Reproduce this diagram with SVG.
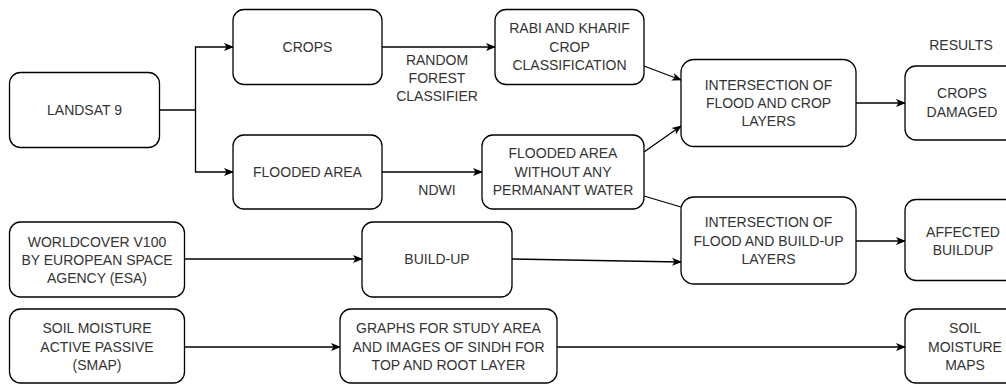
<svg xmlns="http://www.w3.org/2000/svg" width="1006" height="387" viewBox="0 0 1006 387">
<style>
.n rect{fill:#fff;stroke:#000;stroke-width:1.3}
text{font-family:"Liberation Sans",Arial,sans-serif;font-size:14px;fill:#333;text-anchor:middle}
.c path{fill:none;stroke:#000;stroke-width:1.3}
</style>
<defs>
<marker id="ah" viewBox="0 0 10 10" refX="9" refY="5" markerWidth="10" markerHeight="10" markerUnits="userSpaceOnUse" orient="auto">
<path d="M0,1 L10,5 L0,9 L2.5,5 Z" fill="#000"/>
</marker>
</defs>
<rect width="1006" height="387" fill="#fff"/>
<g class="c">
<path d="M159.5,110 H195.5 V47 H233" marker-end="url(#ah)"/>
<path d="M195.5,110 V172 H233" marker-end="url(#ah)"/>
<path d="M382,47 H495" marker-end="url(#ah)"/>
<path d="M382,172 H482" marker-end="url(#ah)"/>
<path d="M644,66 L681,80" marker-end="url(#ah)"/>
<path d="M644,152 L681,126" marker-end="url(#ah)"/>
<path d="M644,196 L681,207"/>
<path d="M856,103 H905" marker-end="url(#ah)"/>
<path d="M184,259 H362" marker-end="url(#ah)"/>
<path d="M512,259 L681,262" marker-end="url(#ah)"/>
<path d="M856,241 H905" marker-end="url(#ah)"/>
<path d="M184,347 H340" marker-end="url(#ah)"/>
<path d="M557,347 H905" marker-end="url(#ah)"/>
</g>
<g id="lbl-rf"><text x="437" y="65">RANDOM</text><text x="437" y="82.5">FOREST</text><text x="437" y="101">CLASSIFIER</text></g>
<g id="lbl-ndwi"><text x="437" y="195">NDWI</text></g>
<g id="lbl-results"><text x="961" y="50">RESULTS</text></g>
<g id="landsat" class="n"><rect x="9.5" y="72.5" width="150" height="75" rx="11"/><text x="84.5" y="115">LANDSAT 9</text></g>
<g id="crops" class="n"><rect x="233" y="9.5" width="149" height="75" rx="11"/><text x="307.5" y="52">CROPS</text></g>
<g id="flooded" class="n"><rect x="233" y="135" width="149" height="74" rx="11"/><text x="307.5" y="177">FLOODED AREA</text></g>
<g id="rabi" class="n"><rect x="495" y="9.5" width="149" height="75" rx="11"/><text x="569.5" y="33">RABI AND KHARIF</text><text x="569.5" y="51.5">CROP</text><text x="569.5" y="70">CLASSIFICATION</text></g>
<g id="flooded-perm" class="n"><rect x="482" y="135" width="162" height="74" rx="11"/><text x="563" y="158">FLOODED AREA</text><text x="563" y="176.5">WITHOUT ANY</text><text x="563" y="195">PERMANANT WATER</text></g>
<g id="int-crop" class="n"><rect x="681" y="59.5" width="175" height="87" rx="13"/><text x="768.5" y="90">INTERSECTION OF</text><text x="768.5" y="108">FLOOD AND CROP</text><text x="768.5" y="126">LAYERS</text></g>
<g id="crops-damaged" class="n"><rect x="905" y="66" width="120" height="74" rx="11"/><text x="962" y="98">CROPS</text><text x="962" y="117">DAMAGED</text></g>
<g id="worldcover" class="n"><rect x="9.5" y="222" width="175" height="75" rx="11"/><text x="97" y="247">WORLDCOVER V100</text><text x="97" y="264.5">BY EUROPEAN SPACE</text><text x="97" y="283">AGENCY (ESA)</text></g>
<g id="buildup" class="n"><rect x="362" y="222" width="150" height="75" rx="11"/><text x="437" y="264">BUILD-UP</text></g>
<g id="int-build" class="n"><rect x="681" y="197" width="175" height="87" rx="13"/><text x="768.5" y="227">INTERSECTION OF</text><text x="768.5" y="245.5">FLOOD AND BUILD-UP</text><text x="768.5" y="264">LAYERS</text></g>
<g id="affected" class="n"><rect x="905" y="199.5" width="120" height="81" rx="11"/><text x="963" y="237">AFFECTED</text><text x="963" y="255">BUILDUP</text></g>
<g id="smap" class="n"><rect x="9.5" y="309" width="175" height="74" rx="11"/><text x="97" y="333">SOIL MOISTURE</text><text x="97" y="351.5">ACTIVE PASSIVE</text><text x="97" y="370">(SMAP)</text></g>
<g id="graphs" class="n"><rect x="340" y="309" width="217" height="74" rx="11"/><text x="448.5" y="333">GRAPHS FOR STUDY AREA</text><text x="448.5" y="351.5">AND IMAGES OF SINDH FOR</text><text x="448.5" y="370">TOP AND ROOT LAYER</text></g>
<g id="smmaps" class="n"><rect x="905" y="309" width="120" height="74" rx="11"/><text x="965" y="333">SOIL</text><text x="965" y="351.5">MOISTURE</text><text x="965" y="370">MAPS</text></g>
</svg>
